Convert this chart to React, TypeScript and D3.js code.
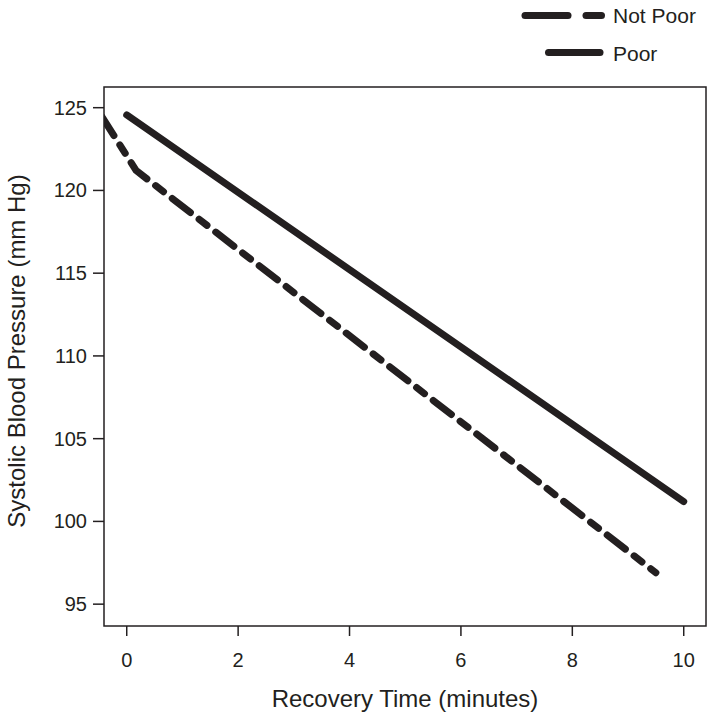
import React from "react";
import * as d3 from "d3";

const notPoorTime = [-0.5, 0.17, 9.5];
const notPoorSBP = [124.74, 121.2, 96.9];
const poorTime = [0, 10];
const poorSBP = [124.56, 101.2];
const xTicks = [0, 2, 4, 6, 8, 10];
const yTicks = [95, 100, 105, 110, 115, 120, 125];
const legendLabels = ["Not Poor", "Poor"];

const W = 714;
const H = 720;
const left = 104;
const right = 706;
const top = 87;
const bottom = 626;
const ink = "#231f20";
const font = "'Liberation Sans', Arial, Helvetica, sans-serif";

export default function App() {
  const x = d3.scaleLinear().domain([-0.408, 10.4]).range([left, right]);
  const y = d3.scaleLinear().domain([93.68, 126.25]).range([bottom, top]);
  const line = d3
    .line<[number, number]>()
    .x((d) => x(d[0]))
    .y((d) => y(d[1]));
  const np = notPoorTime.map((t, i) => [t, notPoorSBP[i]] as [number, number]);
  const p = poorTime.map((t, i) => [t, poorSBP[i]] as [number, number]);

  return (
    <svg
      width={W}
      height={H}
      style={{ position: "absolute", left: 0, top: 0, background: "#fff" }}
      fontFamily={font}
    >
      <defs>
        <clipPath id="plotclip">
          <rect x={left} y={top} width={right - left} height={bottom - top} />
        </clipPath>
      </defs>
      <rect x={0} y={0} width={W} height={H} fill="#fff" />
      <g clipPath="url(#plotclip)">
        <path
          d={line(np) || ""}
          fill="none"
          stroke={ink}
          strokeWidth={7}
          strokeLinecap="round"
          strokeLinejoin="round"
          strokeDasharray="23 11 10 11"
          strokeDashoffset={-5}
        />
        <path
          d={line(p) || ""}
          fill="none"
          stroke={ink}
          strokeWidth={7}
          strokeLinecap="round"
        />
      </g>
      <rect
        x={left}
        y={top}
        width={right - left}
        height={bottom - top}
        fill="none"
        stroke={ink}
        strokeWidth={1.5}
      />
      {xTicks.map((t) => (
        <g key={"x" + t}>
          <line x1={x(t)} x2={x(t)} y1={bottom} y2={bottom + 10} stroke={ink} strokeWidth={1.5} />
          <text x={x(t)} y={667} textAnchor="middle" fontSize={20} fill={ink}>
            {t}
          </text>
        </g>
      ))}
      {yTicks.map((t) => (
        <g key={"y" + t}>
          <line x1={left - 11} x2={left} y1={y(t)} y2={y(t)} stroke={ink} strokeWidth={1.5} />
          <text x={87} y={y(t) + 7} textAnchor="end" fontSize={20} fill={ink}>
            {t}
          </text>
        </g>
      ))}
      <text x={(left + right) / 2} y={707} textAnchor="middle" fontSize={24} fill={ink}>
        Recovery Time (minutes)
      </text>
      <text
        transform={`translate(25, 351) rotate(-90)`}
        textAnchor="middle"
        fontSize={24}
        fill={ink}
      >
        Systolic Blood Pressure (mm Hg)
      </text>
      <g>
        <line x1={525} x2={568} y1={15.5} y2={15.5} stroke={ink} strokeWidth={7} strokeLinecap="round" />
        <line x1={586} x2={601.5} y1={15.5} y2={15.5} stroke={ink} strokeWidth={7} strokeLinecap="round" />
        <text x={613} y={23} fontSize={21} fill={ink}>
          {legendLabels[0]}
        </text>
        <line x1={548.5} x2={600} y1={52.5} y2={52.5} stroke={ink} strokeWidth={7} strokeLinecap="round" />
        <text x={613} y={60.5} fontSize={21} fill={ink}>
          {legendLabels[1]}
        </text>
      </g>
    </svg>
  );
}
